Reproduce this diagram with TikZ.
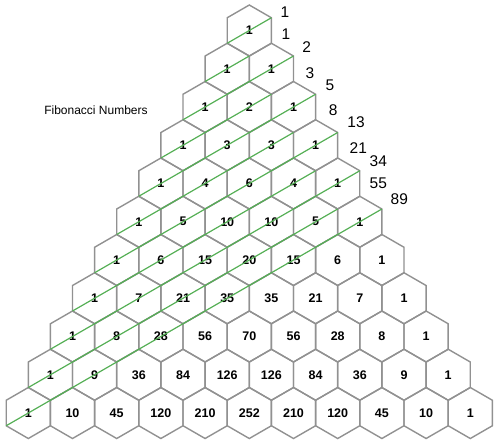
\documentclass[tikz,border=0pt]{standalone}
\usepackage{fontspec}
\setmainfont{Liberation Sans}
\usetikzlibrary{shapes.geometric}
\definecolor{hexgray}{RGB}{145,145,145}
\definecolor{fibgreen}{RGB}{85,175,85}

\begin{document}
\begin{tikzpicture}[x=1pt, y=-1pt,
    hexcell/.style={regular polygon, regular polygon sides=6, shape border rotate=30,
        minimum size=51pt, inner sep=0pt, outer sep=0pt, draw=hexgray, line width=1.4pt,
        font=\fontsize{12.5}{14}\selectfont\bfseries},
    fibline/.style={fibgreen, line width=1.2pt},
    fiblabel/.style={font=\fontsize{15.5}{17}\selectfont}]
    \useasboundingbox (0, 0) rectangle (498, 445);

    \foreach \row [count=\n from 0] in {{1}, {1,1}, {1,2,1}, {1,3,3,1}, {1,4,6,4,1},
        {1,5,10,10,5,1}, {1,6,15,20,15,6,1}, {1,7,21,35,35,21,7,1},
        {1,8,28,56,70,56,28,8,1}, {1,9,36,84,126,126,84,36,9,1},
        {1,10,45,120,210,252,210,120,45,10,1}} {
        \foreach \v [count=\k from 0] in \row {
            \node[hexcell] (h\n-\k) at ({249.3 + (\k - \n/2)*44.2}, {30.5 + 38.25*\n}) {\v};
        }
    }

    \foreach \n in {0,...,10} {
        \pgfmathtruncatemacro{\kk}{floor(\n/2)}
        \pgfmathtruncatemacro{\nn}{\n - \kk}
        \draw[fibline] (h\n-0.210) -- (h\nn-\kk.30);
    }

    \node[fiblabel] (f0) at (285, 11.7) {1};
    \node[fiblabel] (f1) at (286, 34.3) {1};
    \node[fiblabel] (f2) at (306.7, 46.7) {2};
    \node[fiblabel] (f3) at (310, 72.7) {3};
    \node[fiblabel] (f4) at (330, 85) {5};
    \node[fiblabel] (f5) at (333.3, 110) {8};
    \node[fiblabel] (f6) at (356, 122.3) {13};
    \node[fiblabel] (f7) at (358.3, 147.7) {21};
    \node[fiblabel] (f8) at (378.3, 160.7) {34};
    \node[fiblabel] (f9) at (378.3, 183.3) {55};
    \node[fiblabel] (f10) at (399.3, 199) {89};

    \node[font=\fontsize{12}{14}\selectfont] (title) at (96, 110.7) {Fibonacci Numbers};
\end{tikzpicture}
\end{document}
